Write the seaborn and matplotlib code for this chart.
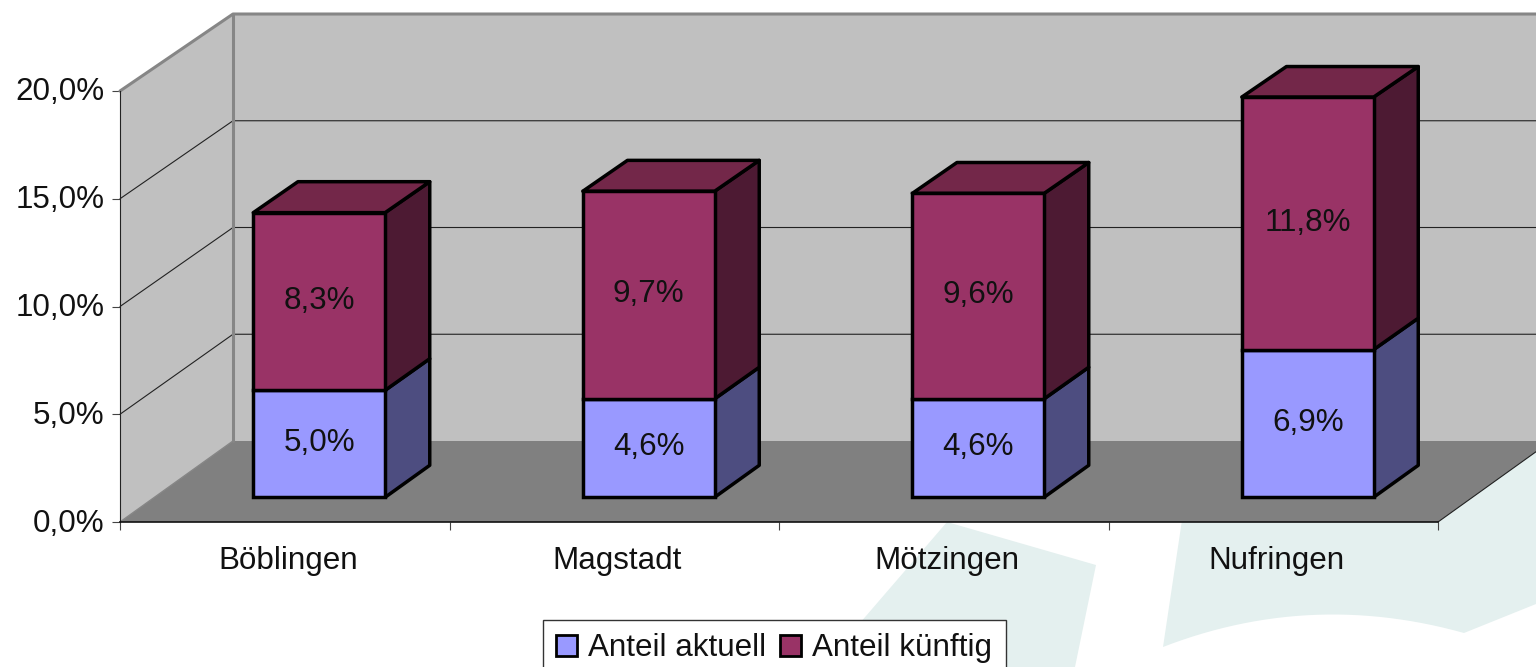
import matplotlib
matplotlib.use("Agg")
import matplotlib.pyplot as plt
from matplotlib.patches import Polygon, Rectangle
from matplotlib.transforms import ScaledTranslation
import numpy as np
import seaborn as sns

orte = ["Böblingen", "Magstadt", "Mötzingen", "Nufringen"]
anteil_aktuell = [5.0, 4.6, 4.6, 6.9]
anteil_kuenftig = [8.3, 9.7, 9.6, 11.8]
y_ticks = [0, 5, 10, 15, 20]

sns.set_style("white")
plt.rcParams["font.family"] = ["Liberation Sans", "DejaVu Sans"]

W, H = 1536, 667
FS = 22.6
fig = plt.figure(figsize=(W / 100, H / 100), dpi=100, facecolor="white")

# watermark in the background of the slide
bg = fig.add_axes([0, 0, 1, 1], zorder=0)
bg.set_xlim(0, W)
bg.set_ylim(H, 0)
bg.axis("off")
wm = "#e4f0ef"
bg.add_patch(Polygon([(947, 522), (1096, 565), (1075, 667), (822, 667)], fc=wm, ec="none"))
t = np.linspace(0, 1, 30)
cx = (1 - t)**2 * 1163 + 2 * (1 - t) * t * 1310 + t**2 * 1464
cy = (1 - t)**2 * 647 + 2 * (1 - t) * t * 590 + t**2 * 633
bg.add_patch(Polygon([(1185, 500), (1536, 440), (1536, 604), (1464, 633)]
                     + list(zip(cx[::-1], cy[::-1])), fc=wm, ec="none"))

ax = fig.add_axes([120 / W, (H - 522) / H, 1318 / W, 431 / H], zorder=1)
ax.patch.set_alpha(0)

# depth of the fake 3D box, in data units
DX = 113 / 329.5
DY = 81 / 21.55


def proj(x, v, d):
    return x + d * DX, v * (1 - 0.0093 * d) + d * DY


def face(points, color, z=3, lw=2.5, ec="black"):
    ax.add_patch(Polygon(points, closed=True, fc=color, ec=ec, lw=lw, zorder=z,
                         clip_on=False, joinstyle="round"))


sns.barplot(x=orte, y=anteil_aktuell, color="#9999ff", saturation=1, width=0.40,
            edgecolor="black", linewidth=2.5, zorder=4, ax=ax)
sns.barplot(x=orte, y=anteil_kuenftig, bottom=anteil_aktuell, color="#993366", saturation=1,
            width=0.40, edgecolor="black", linewidth=2.5, zorder=4, ax=ax)

ax.set_xlim(-0.5, 3.5)
ax.set_ylim(0, 20)

# walls and floor
x0, x1 = -0.5, 3.5
face([proj(x0, 0, 0), proj(x0, 0, 1), proj(x0, 20, 1), proj(x0, 20, 0)], "#c0c0c0", z=0.5, lw=0)
face([proj(x0, 0, 1), proj(x1, 0, 1), proj(x1, 20, 1), proj(x0, 20, 1)], "#c0c0c0", z=0.5, lw=0)
face([proj(x0, 0, 0), proj(x1, 0, 0), proj(x1, 0, 1), proj(x0, 0, 1)], "#808080", z=0.6, lw=0)

for v in y_ticks[1:-1]:
    ax.plot(*zip(proj(x0, v, 0), proj(x0, v, 1), proj(x1, v, 1)), color="#222222", lw=0.8,
            zorder=0.7, clip_on=False)

grau = "#868686"
ax.plot(*zip(proj(x0, 20, 0), proj(x0, 20, 1), proj(x1, 20, 1)), color=grau, lw=2.2, zorder=0.8, clip_on=False)
ax.plot(*zip(proj(x0, 0, 1), proj(x0, 20, 1)), color=grau, lw=2.2, zorder=0.8, clip_on=False)
ax.plot(*zip(proj(x0, 0, 0), proj(x0, 0, 1)), color=grau, lw=1, zorder=0.8, clip_on=False)
ax.plot(*zip(proj(x1, 0, 0), proj(x1, 0, 1)), color="#222222", lw=0.8, zorder=0.8, clip_on=False)

# push the seaborn bars into the box and add side and top faces
D0, D1 = 0.305, 0.70
S = 0.996
n = len(orte)
for i, p in enumerate(ax.patches[:2 * n]):
    if not isinstance(p, Rectangle):
        continue
    xl, w = p.get_x(), p.get_width()
    low, high = p.get_y(), p.get_y() + p.get_height()
    wert = high - low
    low, high = low * S, high * S
    side = "#4d4d80" if i < n else "#4d1a33"
    top = "#732749"
    y_low = proj(0, low, D0)[1]
    y_high = proj(0, high, D0)[1]
    p.set_x(xl + D0 * DX)
    p.set_y(y_low)
    p.set_height(y_high - y_low)
    p.set_clip_on(False)
    xr = xl + w
    face([proj(xr, low, D0), proj(xr, low, D1), proj(xr, high, D1), proj(xr, high, D0)], side)
    if i >= n:
        face([proj(xl, high, D0), proj(xr, high, D0), proj(xr, high, D1), proj(xl, high, D1)], top)
    label = f"{wert:.1f}%".replace(".", ",")
    ax.text(xl + w / 2 + D0 * DX, (y_low + y_high) / 2 + 0.03, label, ha="center", va="center",
            fontsize=FS, color="#111111", zorder=6)

# axes, ticks
sns.despine(ax=ax, top=True, right=True)
ax.spines["left"].set_color("#222222")
ax.spines["left"].set_linewidth(0.8)
ax.spines["bottom"].set_color("#111111")
ax.spines["bottom"].set_linewidth(1.2)
ax.set_yticks(y_ticks)
ax.set_yticklabels([f"{v:.1f}%".replace(".", ",") for v in y_ticks], fontsize=FS, color="#111111")
ax.set_xticks(range(n))
ax.set_xticklabels(orte, fontsize=FS, color="#111111")
ax.set_xticks(np.arange(-0.5, 4), minor=True)
ax.tick_params(axis="x", which="major", length=0, pad=17, bottom=False)
ax.tick_params(axis="x", which="minor", length=6, width=0.8, color="#444444", bottom=True)
ax.tick_params(axis="y", length=6, width=0.8, color="#444444", pad=5, left=True)

# small nudges of the tick labels
for lab in ax.get_yticklabels():
    lab.set_transform(lab.get_transform() + ScaledTranslation(0, 2 / 100, fig.dpi_scale_trans))
for lab in ax.get_xticklabels():
    lab.set_transform(lab.get_transform() + ScaledTranslation(3 / 100, 0, fig.dpi_scale_trans))

handles = [Rectangle((0, 0), 1, 1, fc="#9999ff", ec="black", lw=2),
           Rectangle((0, 0), 1, 1, fc="#993366", ec="black", lw=2)]
ax.legend(handles, ["Anteil aktuell", "Anteil künftig"], ncol=2, fontsize=FS, loc="upper left",
          bbox_to_anchor=(543 / W, (H - 620) / H), bbox_transform=fig.transFigure, borderaxespad=0,
          frameon=True, fancybox=False, framealpha=1, edgecolor="#333333", facecolor="white",
          labelcolor="#111111", handlelength=0.65, handleheight=0.65, handletextpad=0.37,
          columnspacing=0.45, borderpad=0.42, labelspacing=0)

fig.savefig("out.png", dpi=100, facecolor="white")
